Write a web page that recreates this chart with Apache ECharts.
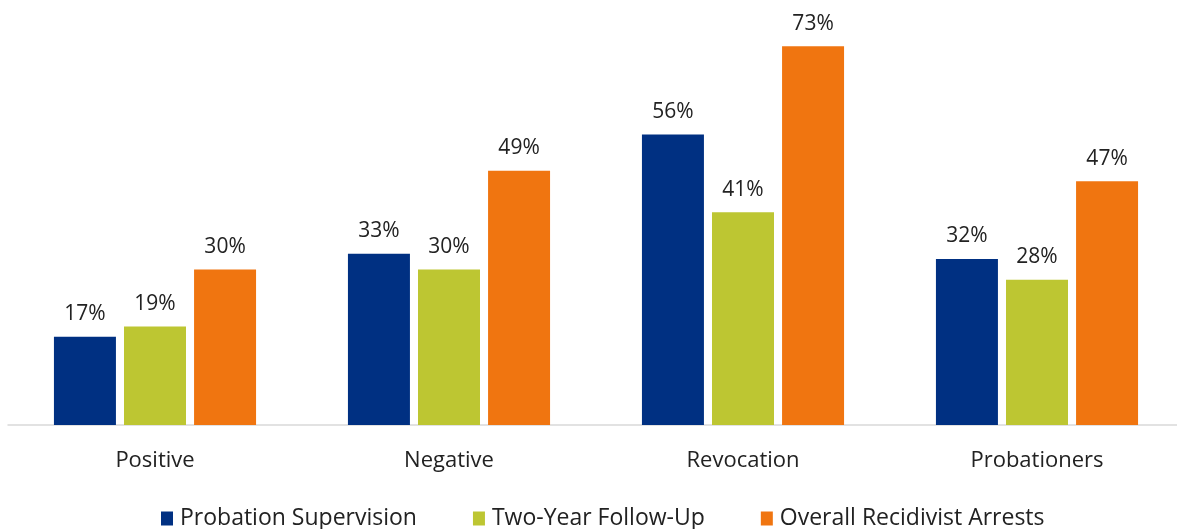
<!DOCTYPE html>
<html><head><meta charset="utf-8">
<script src="https://cdn.jsdelivr.net/npm/echarts@6/dist/echarts.min.js"></script>
<style>html,body{margin:0;padding:0;background:#fff;overflow:hidden;width:1177px;height:529px}#c{width:1192px;height:529px}</style>
</head><body><div id="c"></div>
<script>
const categories = ['Positive', 'Negative', 'Revocation', 'Probationers'];
const probationSupervision = [17, 33, 56, 32];
const twoYearFollowUp = [19, 30, 41, 28];
const overallRecidivist = [30, 49, 73, 47];
const seriesNames = ['Probation Supervision', 'Two-Year Follow-Up', 'Overall Recidivist Arrests'];
const colors = ['#003082', '#BDC632', '#F07510'];
const FONT = 'Open Sans';
const data = [probationSupervision, twoYearFollowUp, overallRecidivist];
const chart = echarts.init(document.getElementById('c'));
chart.setOption({
  animation: false,
  textStyle: { fontFamily: FONT },
  grid: { left: 8, top: 10, width: 1176, bottom: 104, containLabel: false },
  legend: {
    top: 502, left: 156, itemWidth: 12, itemHeight: 14, itemGap: 56,
    icon: 'rect',
    textStyle: { fontFamily: FONT, fontSize: 23, color: '#222', padding: [0, 0, 0, 2] },
    data: seriesNames
  },
  xAxis: {
    type: 'category', data: categories,
    axisLine: { lineStyle: { color: '#d9d9d9', width: 1.5 } },
    axisTick: { show: false },
    axisLabel: { fontFamily: FONT, fontSize: 22, color: '#222', margin: 25 }
  },
  yAxis: { type: 'value', min: 0, max: 80, show: false, splitLine: { show: false } },
  series: data.map((d, i) => ({
    name: seriesNames[i], type: 'bar', data: d,
    barWidth: 62, barGap: '13%', barCategoryGap: '31%',
    itemStyle: { color: colors[i] },
    label: { show: true, position: 'top', distance: 12, formatter: '{c}%', fontFamily: FONT, fontSize: 21, color: '#222' }
  }))
});
</script></body></html>
